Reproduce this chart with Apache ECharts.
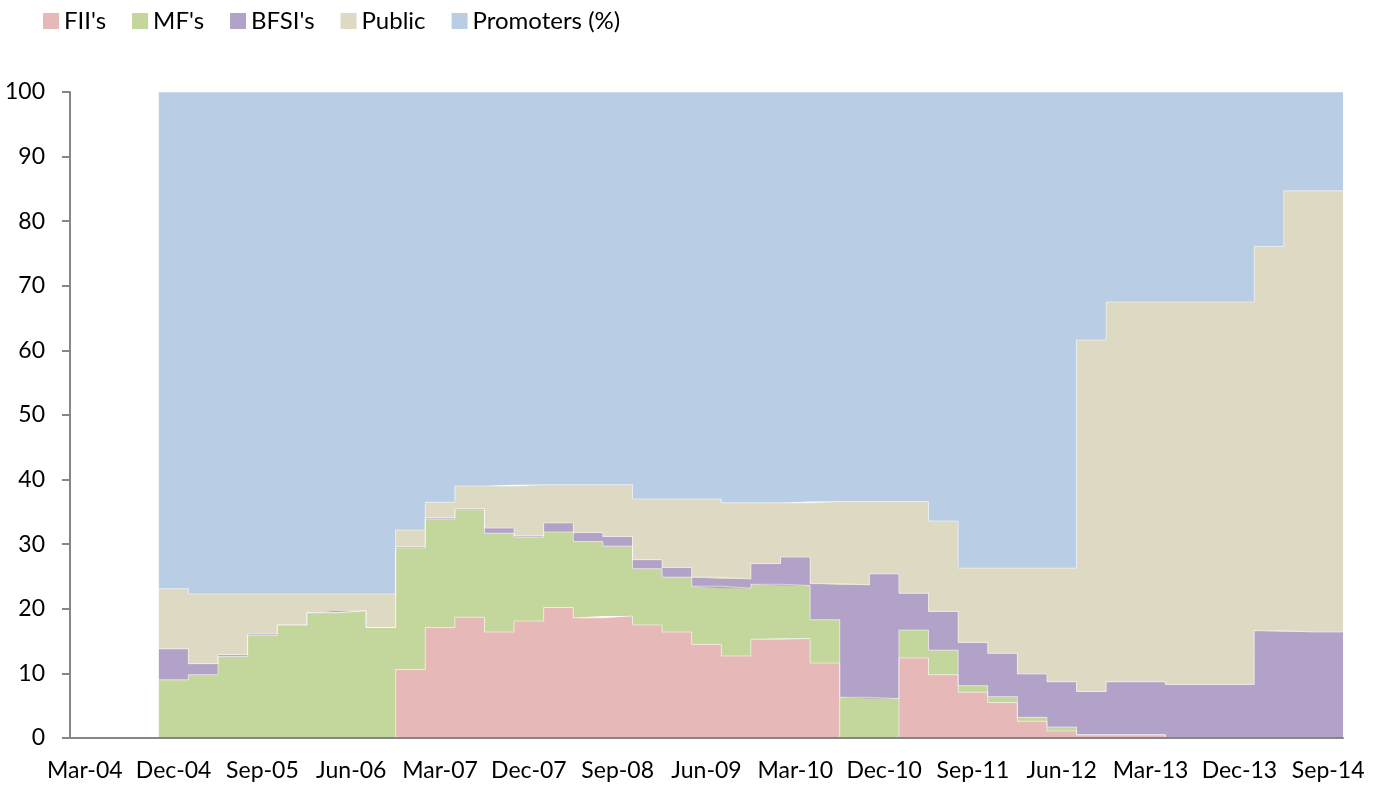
<!DOCTYPE html>
<html>
<head>
<meta charset="utf-8">
<script src="https://cdn.jsdelivr.net/npm/echarts@6/dist/echarts.min.js"></script>
<style>
  html, body { margin: 0; padding: 0; background: #fff; }
  #chart { width: 1378px; height: 787px; }
</style>
</head>
<body>
<div id="chart"></div>
<script>
// quarters, Mar-04 .. Sep-14
const categories = [
  'Mar-04', 'Jun-04', 'Sep-04', 'Dec-04', 'Mar-05', 'Jun-05', 'Sep-05', 'Dec-05',
  'Mar-06', 'Jun-06', 'Sep-06', 'Dec-06', 'Mar-07', 'Jun-07', 'Sep-07', 'Dec-07',
  'Mar-08', 'Jun-08', 'Sep-08', 'Dec-08', 'Mar-09', 'Jun-09', 'Sep-09', 'Dec-09',
  'Mar-10', 'Jun-10', 'Sep-10', 'Dec-10', 'Mar-11', 'Jun-11', 'Sep-11', 'Dec-11',
  'Mar-12', 'Jun-12', 'Sep-12', 'Dec-12', 'Mar-13', 'Jun-13', 'Sep-13', 'Dec-13',
  'Mar-14', 'Jun-14', 'Sep-14'
]

// shareholding (%), no data for the first three quarters
const fii = [null, null, null,
  0, 0, 0, 0, 0, 0, 0, 0,
  10.6, 17.1, 18.7, 16.4, 18.1, 20.2, 18.6, 18.9, 17.5, 16.4, 14.5, 12.7, 15.3, 15.4, 11.6,
  0, 0, 12.4, 9.8, 7.1, 5.5, 2.6, 1.1, 0.5, 0.5, 0.5, 0, 0, 0, 0, 0, 0]
const mf = [null, null, null,
  9.0, 9.8, 12.6, 15.9, 17.5, 19.4, 19.7, 17.1,
  18.8, 16.8, 16.6, 15.3, 13.0, 11.7, 11.8, 10.8, 8.7, 8.5, 9.0, 10.5, 8.5, 8.2, 6.7,
  6.3, 6.1, 4.3, 3.8, 1.0, 0.9, 0.6, 0.6, 0, 0, 0, 0, 0, 0, 0, 0, 0]
const bfsi = [null, null, null,
  4.8, 1.7, 0.3, 0.2, 0, 0, 0, 0,
  0.2, 0.2, 0.2, 0.8, 0.2, 1.4, 1.4, 1.5, 1.4, 1.5, 1.4, 1.4, 3.2, 4.4, 5.6,
  17.4, 19.3, 5.7, 6.0, 6.7, 6.7, 6.7, 7.0, 6.7, 8.2, 8.2, 8.3, 8.3, 8.3, 16.6, 16.4, 16.4]
const pub = [null, null, null,
  9.3, 10.8, 9.4, 6.2, 4.8, 2.9, 2.6, 5.2,
  2.6, 2.4, 3.5, 6.5, 7.9, 5.9, 7.4, 8.0, 9.4, 10.6, 12.1, 11.8, 9.4, 8.4, 12.7,
  12.9, 11.2, 14.2, 14.0, 11.5, 13.2, 16.4, 17.6, 54.4, 58.8, 58.8, 59.2, 59.2, 59.2, 59.5, 68.3, 68.3]
const promoters = [null, null, null,
  76.9, 77.7, 77.7, 77.7, 77.7, 77.7, 77.7, 77.7,
  67.8, 63.5, 61.0, 61.0, 60.8, 60.8, 60.8, 60.8, 63.0, 63.0, 63.0, 63.6, 63.6, 63.6, 63.4,
  63.4, 63.4, 63.4, 66.4, 73.7, 73.7, 73.7, 73.7, 38.4, 32.5, 32.5, 32.5, 32.5, 32.5, 23.9, 15.3, 15.3]

const seriesNames = ["FII's", "MF's", "BFSI's", 'Public', 'Promoters (%)']
const seriesData = [fii, mf, bfsi, pub, promoters]
const colors = ['#E6B9B8', '#C3D69B', '#B3A2C7', '#DDD9C3', '#B9CDE5']

// hidden axis of band edges (0..n), each quarter's value held across its band
let edges = []
for (let i = 0; i <= categories.length; i++) edges.push(String(i))

function toSteps (arr) {
  let pts = arr.slice()
  pts.push(arr[arr.length - 1])
  return pts
}

let chart = echarts.init(document.getElementById('chart'))
const font = 'Lato'

let series = []
for (let k = 0; k < seriesNames.length; k++) {
  series.push({
    name: seriesNames[k],
    type: 'line',
    xAxisIndex: 1,
    stack: 'total',
    step: 'end',
    symbol: 'none',
    showSymbol: false,
    color: colors[k],
    lineStyle: { color: 'rgba(255,255,255,0.5)', width: 1 },
    areaStyle: { color: colors[k], opacity: 1 },
    data: toSteps(seriesData[k])
  })
}

chart.setOption({
  animation: false,
  textStyle: { fontFamily: font },
  legend: {
    left: 43,
    top: 9,
    padding: 0,
    icon: 'rect',
    itemWidth: 16,
    itemHeight: 16,
    itemGap: 26,
    itemStyle: { borderWidth: 0 },
    textStyle: { fontFamily: font, fontSize: 24, color: '#000' },
    data: seriesNames
  },
  grid: { left: 70, right: 35, top: 92, bottom: 49 },
  xAxis: [
    {
      type: 'category',
      data: categories,
      boundaryGap: true,
      z: 10,
      axisLine: { lineStyle: { color: '#868686', width: 2 } },
      axisTick: { interval: 0, length: 8, lineStyle: { color: '#868686', width: 2 } },
      axisLabel: { interval: 2, fontFamily: font, fontSize: 23, color: '#000', margin: 21 },
      splitLine: { show: false }
    },
    {
      type: 'category',
      data: edges,
      boundaryGap: false,
      show: false
    }
  ],
  yAxis: {
    type: 'value',
    min: 0,
    max: 100,
    interval: 10,
    z: 10,
    axisLine: { show: true, lineStyle: { color: '#868686', width: 2 } },
    axisTick: { show: true, length: 8, lineStyle: { color: '#868686', width: 2 } },
    axisLabel: { fontFamily: font, fontSize: 23, color: '#000', margin: 25 },
    splitLine: { show: false }
  },
  series: series
})
</script>
</body>
</html>
